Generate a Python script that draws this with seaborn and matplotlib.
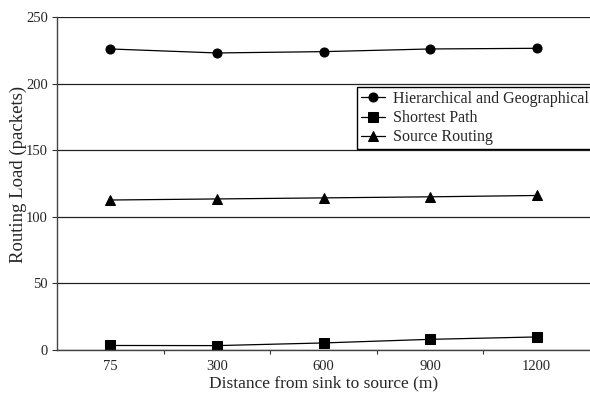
import matplotlib
matplotlib.use("Agg")
import matplotlib.pyplot as plt
import seaborn as sns
import pandas as pd
import numpy as np

categories = ["75", "300", "600", "900", "1200"]
hier_geo = [226, 223, 224, 226, 226.5]
shortest = [3.4, 3.3, 5.3, 8.0, 9.8]
source_routing = [112.6, 113.4, 114.2, 115.0, 116.0]
series_names = ["Hierarchical and Geographical", "Shortest Path", "Source Routing"]
y_ticks = [0, 50, 100, 150, 200, 250]

sns.set_theme(style="white")
plt.rcParams['font.family'] = ['Liberation Serif', 'DejaVu Serif']

rows = []
for name, vals in zip(series_names, [hier_geo, shortest, source_routing]):
    for i, v in enumerate(vals):
        rows.append({"pos": i, "value": v, "series": name})
df = pd.DataFrame(rows)

fig = plt.figure(figsize=(5.9, 3.93), dpi=100)
ax = fig.add_axes([57/590, 1 - 350/393, 533/590, 333/393])

sns.lineplot(data=df, x="pos", y="value", hue="series", style="series",
             hue_order=series_names, style_order=series_names,
             palette=["black"] * 3, dashes=False,
             markers={"Hierarchical and Geographical": "o", "Shortest Path": "s",
                      "Source Routing": "^"},
             markersize=6.5, markeredgecolor="black", linewidth=0.9, ax=ax)

ax.set_xlim(-0.5, 4.5)
ax.set_ylim(0, 250)
ax.set_yticks(y_ticks)
ax.set_yticklabels([str(t) for t in y_ticks], fontsize=10.5)
ax.set_xticks(range(len(categories)))
ax.set_xticklabels(categories, fontsize=10.5)
ax.set_xticks([0.5, 1.5, 2.5, 3.5], minor=True)
ax.tick_params(axis="x", which="major", length=0, pad=7)
ax.tick_params(axis="x", which="minor", length=3, width=0.8, color="#333333", direction="out", bottom=True)
ax.tick_params(axis="y", which="major", length=3.6, width=0.8, color="#333333", direction="out", left=True, pad=3)
ax.grid(axis="y", color="#222222", linewidth=0.9)
ax.grid(axis="x", visible=False)
for s in ["top", "right"]:
    ax.spines[s].set_visible(False)
for s in ["left", "bottom"]:
    ax.spines[s].set_color("#444444")
    ax.spines[s].set_linewidth(1.0)

ax.set_xlabel("Distance from sink to source (m)", fontsize=12.5, labelpad=2)
ax.set_ylabel("Routing Load (packets)", fontsize=13.5)
ax.yaxis.set_label_coords(-0.056, 0.528)

leg = ax.legend(loc="upper left", bbox_to_anchor=((357-57)/533, (350-87)/333),
                fontsize=11.5, frameon=True, fancybox=False, edgecolor="black",
                handlelength=1.5, handletextpad=0.5, borderpad=0.25,
                labelspacing=0.2, borderaxespad=0)
leg.get_frame().set_linewidth(1.0)
leg.get_frame().set_alpha(1)

fig.savefig("out.png", dpi=100)
